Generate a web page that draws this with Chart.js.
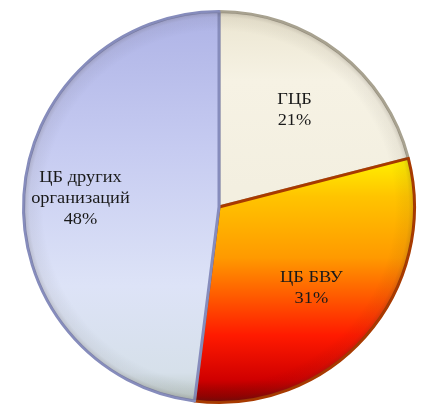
<!DOCTYPE html>
<html>
<head>
<meta charset="utf-8">
<script src="https://cdn.jsdelivr.net/npm/chart.js@4"></script>
<style>
  html, body { margin: 0; padding: 0; background: #fff; }
  #wrap { width: 423px; height: 406px; }
</style>
</head>
<body>
<div id="wrap"><canvas id="c" width="423" height="406"></canvas></div>
<script>
// data
var labels = [["ГЦБ"], ["ЦБ БВУ"], ["ЦБ других", "организаций"]]
var shares = [21, 31, 48]

// how far out from the centre each label sits (fraction of radius)
var labelReach = [0.63, 0.63, 0.71]

// gradient fill per slice, built against the chart area
function fillFor(ctx) {
  var chart = ctx.chart
  var area = chart.chartArea
  if (!area) return "#ddd"
  var c = chart.ctx
  var top = area.top, bot = area.bottom
  var h = bot - top
  var g
  switch (ctx.dataIndex) {
    case 0:
      g = c.createLinearGradient(0, top, 0, top + h * 0.45)
      g.addColorStop(0, "#ebe5d0")
      g.addColorStop(0.4, "#f6f2e4")
      g.addColorStop(1, "#f3efe0")
      return g
    case 1:
      g = c.createLinearGradient(0, top + h * 0.38, 0, bot)
      g.addColorStop(0, "#fff000")
      g.addColorStop(0.15, "#ffc400")
      g.addColorStop(0.4, "#ff9a00")
      g.addColorStop(0.72, "#ff1a00")
      g.addColorStop(0.9, "#d00000")
      g.addColorStop(1, "#7a0000")
      return g
    default:
      g = c.createLinearGradient(0, top, 0, bot)
      g.addColorStop(0, "#aeb3e6")
      g.addColorStop(0.35, "#c6cbf1")
      g.addColorStop(0.7, "#dde3f7")
      g.addColorStop(0.92, "#d6e0ea")
      g.addColorStop(1, "#b8c4bf")
      return g
  }
}

var borders = ["#a8a290", "#a83a00", "#868cbc"]

// soft darkening toward the rim, a rough stand-in for the bevel
var rimShade = {
  id: "rimShade",
  afterDatasetsDraw: function(chart) {
    var meta = chart.getDatasetMeta(0)
    var arc = meta.data[0]
    if (!arc) return
    var p = arc.getProps(["x", "y", "outerRadius"], true)
    var c = chart.ctx
    var g = c.createRadialGradient(p.x, p.y, p.outerRadius * 0.9, p.x, p.y, p.outerRadius)
    g.addColorStop(0, "rgba(0,0,0,0)")
    g.addColorStop(0.7, "rgba(60,50,40,0.06)")
    g.addColorStop(1, "rgba(60,50,40,0.22)")
    c.save()
    c.beginPath()
    c.arc(p.x, p.y, p.outerRadius - 1, 0, Math.PI * 2)
    c.fillStyle = g
    c.fill()
    c.restore()
  }
}

// labels written at each arc, placed from the arc's own geometry
var sliceLabels = {
  id: "sliceLabels",
  afterDatasetsDraw: function(chart) {
    var c = chart.ctx
    var meta = chart.getDatasetMeta(0)
    meta.data.forEach(function(arc, i) {
      var p = arc.getProps(["x", "y", "startAngle", "endAngle", "outerRadius"], true)
      var mid = (p.startAngle + p.endAngle) / 2
      var r = p.outerRadius * labelReach[i]
      var x = p.x + Math.cos(mid) * r
      var y = p.y + Math.sin(mid) * r
      var lines = labels[i].concat([shares[i] + "%"])
      var lh = 21
      var y0 = y - (lines.length - 1) * lh / 2
      c.save()
      // the original text is a little wider than Liberation Serif
      c.translate(x, 0)
      c.scale(1.08, 1)
      c.font = "17px 'Liberation Serif', 'DejaVu Serif', serif"
      c.fillStyle = "#1a1a1a"
      c.textAlign = "center"
      c.textBaseline = "middle"
      lines.forEach(function(t, k) {
        c.fillText(t, 0, y0 + k * lh)
      })
      c.restore()
    })
  }
}

new Chart(document.getElementById("c"), {
  type: "pie",
  data: {
    labels: labels.map(function(l) { return l.join(" ") }),
    datasets: [{
      data: shares,
      backgroundColor: fillFor,
      borderColor: borders,
      borderWidth: 3,
      borderJoinStyle: "round",
    }],
  },
  options: {
    responsive: false,
    animation: false,
    layout: { padding: { left: 20, right: 5, top: 10, bottom: 2 } },
    plugins: {
      legend: { display: false },
      tooltip: { enabled: false },
    },
  },
  plugins: [rimShade, sliceLabels],
})
</script>
</body>
</html>
